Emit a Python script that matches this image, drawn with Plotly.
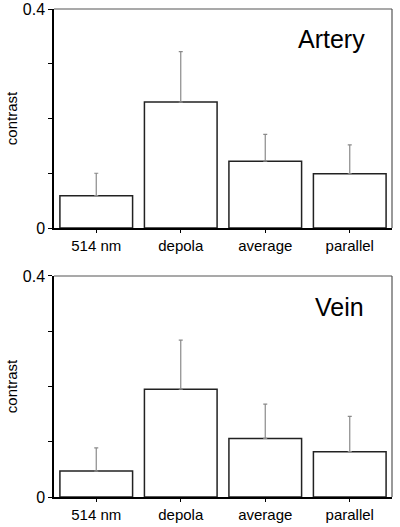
import plotly.graph_objects as go
from plotly.subplots import make_subplots

categories = ["514 nm", "depola", "average", "parallel"]
artery_values = [0.059, 0.230, 0.122, 0.099]
artery_err = [0.041, 0.092, 0.049, 0.053]
vein_values = [0.047, 0.195, 0.106, 0.082]
vein_err = [0.042, 0.089, 0.062, 0.064]
ytick_vals = [0, 0.1, 0.2, 0.3, 0.4]
ytick_text = ["0", "", "", "", "0.4"]

FONT = "Liberation Sans, Arial, sans-serif"

fig = make_subplots(rows=2, cols=1, vertical_spacing=0.1)

for row, vals, errs in [(1, artery_values, artery_err), (2, vein_values, vein_err)]:
    fig.add_trace(go.Bar(
        x=categories, y=vals, width=0.86,
        marker=dict(color="white", line=dict(color="#222222", width=1.5)),
        error_y=dict(type="data", symmetric=False, array=errs,
                     arrayminus=[0] * len(errs), color="#8a8a8a",
                     thickness=1.2, width=2),
        showlegend=False,
    ), row=row, col=1)

fig.update_layout(
    width=400, height=527,
    margin=dict(l=54, r=8, t=9, b=30),
    plot_bgcolor="white", paper_bgcolor="white",
    font=dict(family=FONT, color="black", size=12),
)

fig.update_layout(
    yaxis=dict(domain=[0.5512, 1.0]),
    yaxis2=dict(domain=[0.0, 0.4529]),
)

for ax in ["xaxis", "xaxis2"]:
    fig.layout[ax].update(
        showline=True, linecolor="black", linewidth=2, mirror=False,
        ticks="outside", ticklen=3, tickcolor="black",
        tickfont=dict(size=15, family=FONT), showgrid=False,
        range=[-0.5, 3.5], automargin=False,
    )
for ax in ["yaxis", "yaxis2"]:
    fig.layout[ax].update(
        showline=True, linecolor="black", linewidth=1.5, mirror=False,
        ticks="outside", ticklen=4, tickcolor="black",
        tickvals=ytick_vals, ticktext=ytick_text, range=[0, 0.4],
        tickfont=dict(size=16, family=FONT), showgrid=False, zeroline=False,
        automargin=False,
        title=dict(text="contrast", font=dict(size=15, family=FONT), standoff=2),
    )

# thin grey frame on top and right of each panel
for xr, yr in [("x domain", "y domain"), ("x2 domain", "y2 domain")]:
    fig.add_shape(type="line", xref=xr, yref=yr, x0=0, x1=1, y0=1, y1=1,
                  line=dict(color="#555555", width=1.2))
    fig.add_shape(type="line", xref=xr, yref=yr, x0=1, x1=1, y0=0, y1=1,
                  line=dict(color="#555555", width=1.2))

fig.add_annotation(text="Artery", xref="paper", yref="paper", x=(331 - 54) / 338, y=1 - (39 - 9) / 488,
                   showarrow=False, font=dict(size=25, family=FONT), xanchor="center", yanchor="middle")
fig.add_annotation(text="Vein", xref="paper", yref="paper", x=(339 - 54) / 338, y=(497 - 307) / 488,
                   showarrow=False, font=dict(size=25, family=FONT), xanchor="center", yanchor="middle")

fig.write_html("out.html", config={"displayModeBar": False},
               post_script="document.body.style.margin='0';")
